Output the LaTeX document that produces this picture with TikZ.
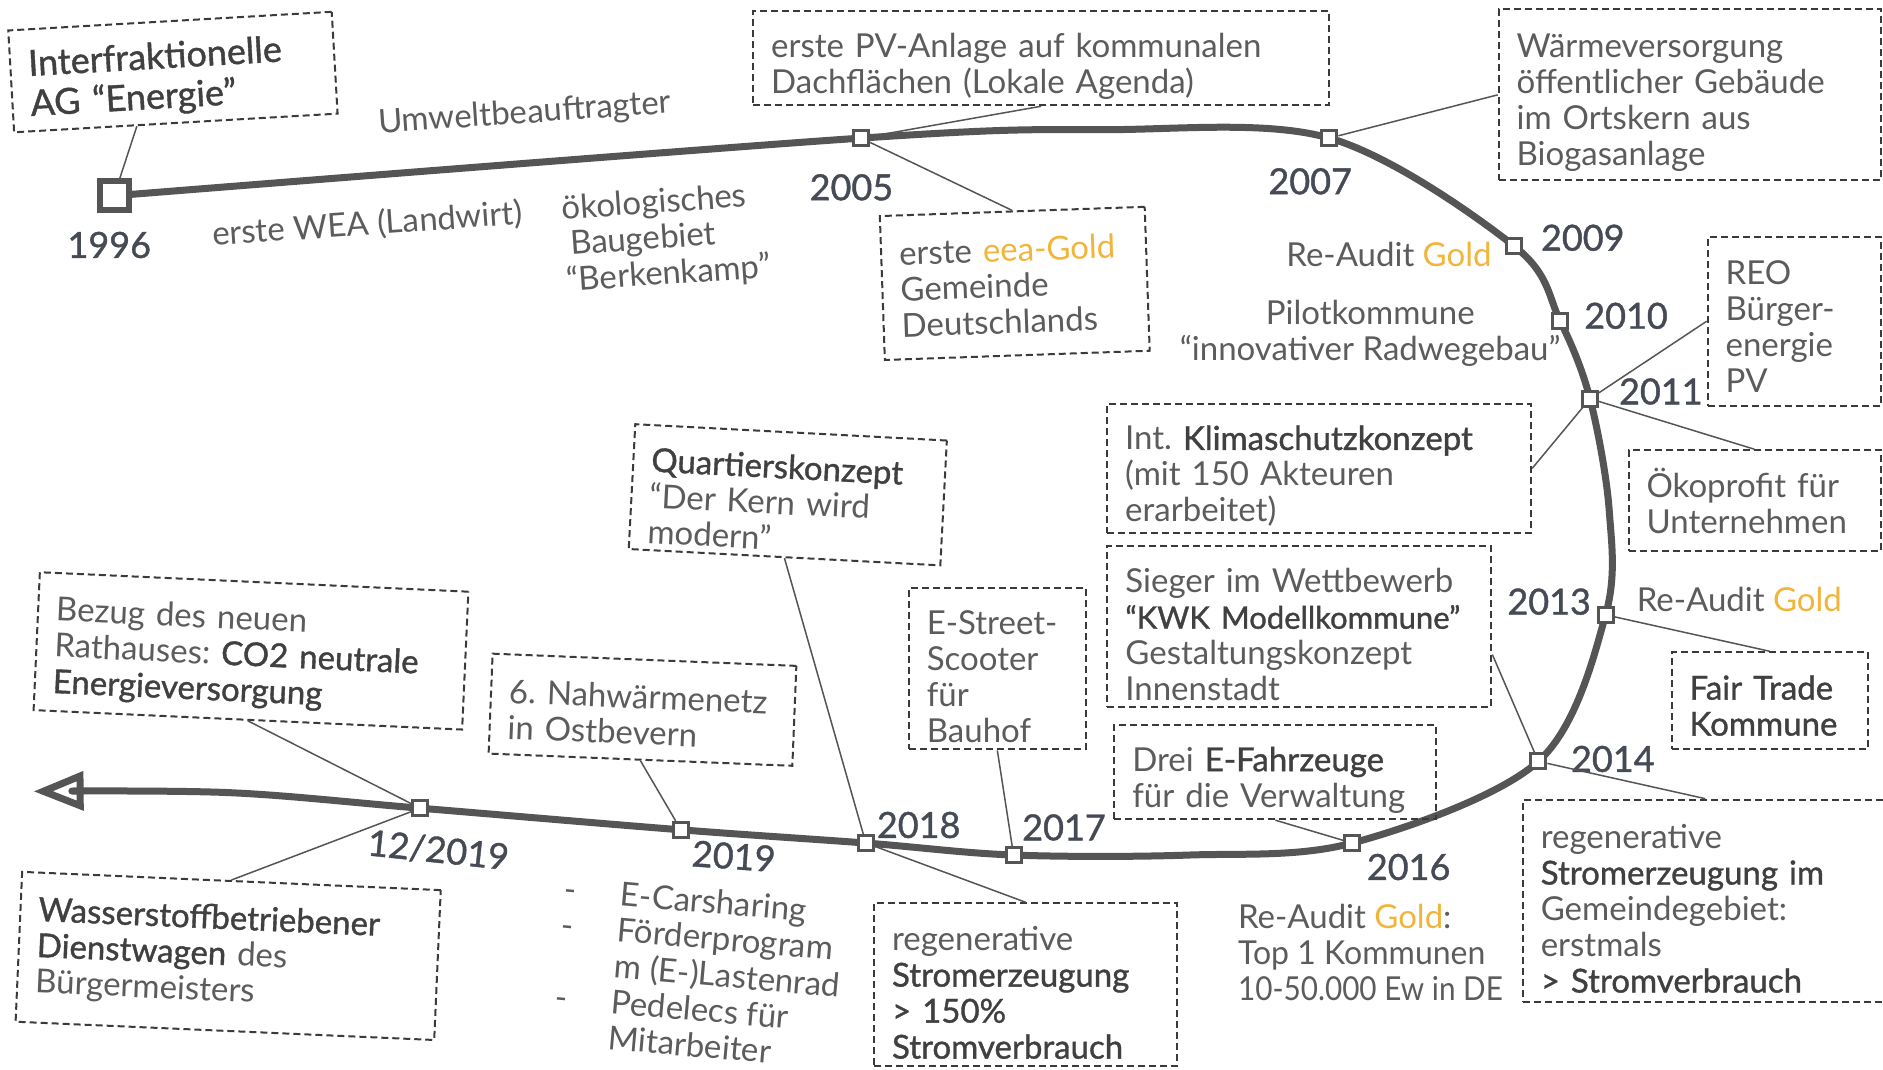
\documentclass[tikz,border=0pt]{standalone}
\usepackage{fontspec}
\usepackage{graphicx}
\setmainfont{Lato}
\newfontfamily\medfont{Lato}[FakeBold=1.1]
\usetikzlibrary{arrows.meta,calc}
\definecolor{tlc}{HTML}{555555}
\definecolor{txtc}{HTML}{5C5C5C}
\definecolor{emc}{HTML}{404040}
\definecolor{yrc}{HTML}{454A54}
\definecolor{goldc}{HTML}{F2B53C}
\definecolor{boxc}{HTML}{3A3A3A}
\newcommand{\gld}[1]{\textcolor{goldc}{#1}}
\newcommand{\emb}[1]{{\medfont\color{emc}#1}}
\hyphenpenalty=10000
\exhyphenpenalty=10000
\frenchspacing
\begin{document}
\begin{tikzpicture}[x=1.2009pt,y=-1.2009pt,
  every node/.style={text=txtc, font=\fontsize{33}{36}\selectfont},
  timeline/.style={line width=7pt, draw=tlc, line join=round},
  mk/.style={draw=tlc, line width=3pt, fill=white, minimum size=15pt, inner sep=0pt},
  bigmk/.style={draw=tlc, line width=6pt, fill=white, minimum size=29pt, inner sep=0pt},
  yr/.style={font=\medfont\fontsize{36}{40}\selectfont, text=yrc},
  ebox/.style={draw=boxc, dash pattern=on 7pt off 4pt, line width=2pt, align=left, inner xsep=18pt, inner ysep=6pt},
  tp/.style={execute at begin node={\rule{0pt}{#1}}},
  con/.style={draw=tlc, line width=1.5pt},
]
\path[use as bounding box, fill=white] (0,0) rectangle (1568,891);

% timeline
\coordinate (p96) at (95,163);
\coordinate (p05) at (717,115);
\coordinate (q1) at (920,108);
\coordinate (p07) at (1107,115);
\coordinate (p09) at (1261,205);
\coordinate (p10) at (1299,267);
\coordinate (p11) at (1324,332);
\coordinate (q2) at (1340,425);
\coordinate (p13) at (1337,512);
\coordinate (p14) at (1281,634);
\coordinate (p16) at (1126,702);
\coordinate (q3) at (990,712);
\coordinate (p17) at (844,712);
\coordinate (p18) at (721,702);
\coordinate (p19) at (567,691);
\coordinate (p1219) at (350,673);
\coordinate (q4) at (190,660);
\coordinate (tip) at (28,659);
\draw[timeline, -{Triangle[open, length=50pt, width=38pt, line width=7pt]}]
  plot[smooth, tension=0.55] coordinates {(p96) (p05) (q1) (p07) (p09) (p10) (p11) (q2) (p13) (p14) (p16) (q3) (p17) (p18) (p19) (p1219) (q4) (tip)};

% markers
\node[bigmk] (m96) at (p96) {};
\node[mk] (m05) at (p05) {};
\node[mk] (m07) at (p07) {};
\node[mk] (m09) at (p09) {};
\node[mk] (m10) at (p10) {};
\node[mk] (m11) at (p11) {};
\node[mk] (m13) at (p13) {};
\node[mk] (m14) at (p14) {};
\node[mk] (m16) at (p16) {};
\node[mk] (m17) at (p17) {};
\node[mk] (m18) at (p18) {};
\node[mk] (m19) at (p19) {};
\node[mk] (m1219) at (p1219) {};

% year labels
\node[yr] (y96) at (91,204) {1996};
\node[yr] (y05) at (709,156) {2005};
\node[yr] (y07) at (1091,151) {2007};
\node[yr] (y09) at (1318,198) {2009};
\node[yr] (y10) at (1354,263) {2010};
\node[yr] (y11) at (1383,326) {2011};
\node[yr] (y13) at (1290,501) {2013};
\node[yr] (y14) at (1343,632) {2014};
\node[yr] (y16) at (1173,722) {2016};
\node[yr] (y17) at (886,689) {2017};
\node[yr] (y18) at (765,687) {2018};
\node[yr, rotate=-4] (y19) at (611,713) {2019};
\node[yr, rotate=-6] (y1219) at (365,708) {12/2019};

% boxes
\node[ebox, tp=38pt, rotate=3.3, text width=288pt, minimum height=102pt, font=\medfont\fontsize{36}{40}\selectfont, text=emc] (b1) at (144,60) {Interfraktionelle\\AG “Energie”};
\node[ebox, tp=40pt, text width=540pt, minimum height=92pt] (b2) at (867,48.5) {erste PV-Anlage auf kommunalen\\Dachflächen (Lokale Agenda)};
\node[ebox, tp=40pt, text width=346pt, minimum height=171pt] (b3) at (1407,79) {Wärmeversorgung\\öffentlicher Gebäude\\im Ortskern aus\\Biogasanlage};
\node[ebox, tp=28pt, rotate=2, text width=229pt, minimum height=144pt] (b4) at (845,236) {erste \gld{eea-Gold}\\Gemeinde\\Deutschlands};
\node[ebox, tp=34pt, text width=137pt, minimum height=169pt] (b5) at (1494,267.5) {REO\\Bürger-\\energie\\PV};
\node[ebox, tp=40pt, text width=388pt, minimum height=127pt] (b6) at (1098.5,390) {Int. \emb{Klimaschutzkonzept}\\(mit 150 Akteuren\\erarbeitet)};
\node[ebox, text width=216pt, minimum height=101pt] (b7) at (1461,417) {Ökoprofit für\\Unternehmen};
\node[ebox, tp=40pt, text width=348pt, minimum height=161pt] (b8) at (1082,522) {Sieger im Wettbewerb\\\mbox{\emb{\fontsize{31}{36}\selectfont“KWK Modellkommune”}}\\Gestaltungskonzept\\Innenstadt};
\node[ebox, tp=34pt, text width=160pt, minimum height=97pt, font=\medfont\fontsize{33}{36}\selectfont, text=emc] (b9) at (1473.5,583.5) {Fair Trade\\Kommune};
\node[ebox, tp=40pt, text width=286pt, minimum height=94pt] (b10) at (1062,643) {Drei \emb{E-Fahrzeuge}\\für die Verwaltung};
\node[ebox, tp=40pt, text width=329pt, minimum height=202pt] (b11) at (1420,750) {regenerative\\\emb{Stromerzeugung im}\\Gemeindegebiet:\\erstmals\\\emb{> Stromverbrauch}};
\node[ebox, tp=40pt, text width=141pt, minimum height=161pt] (b12) at (830.5,557) {E-Street-\\Scooter\\für\\Bauhof};
\node[ebox, tp=40pt, rotate=-3, text width=276pt, minimum height=125pt] (b13) at (656,412) {\emb{Quartierskonzept}\\“Der Kern wird\\modern”};
\node[ebox, tp=34pt, rotate=-2.3, text width=268pt, minimum height=100pt] (b14) at (535,591) {6. Nahwärmenetz\\in Ostbevern};
\node[ebox, tp=36pt, rotate=-2.6, text width=393pt, minimum height=138pt] (b15) at (209,542) {Bezug des neuen\\Rathauses: \emb{CO2 neutrale}\\\emb{Energieversorgung}};
\node[ebox, rotate=-2.5, text width=383pt, minimum height=150pt] (b16) at (190,796) {\emb{Wasserstoffbetriebener}\\\emb{Dienstwagen} des\\Bürgermeisters};
\node[ebox, tp=40pt, text width=267pt, minimum height=163pt] (b17) at (854,820) {regenerative\\\emb{Stromerzeugung}\\\emb{> 150\%}\\\emb{Stromverbrauch}};

% free texts
\node[rotate=4] (t1) at (437,95) {Umweltbeauftragter};
\node[rotate=4] (t2) at (306,187) {erste WEA (Landwirt)};
\node[rotate=4, align=left] (t3) at (555,199) {ökologisches\\\hspace*{6pt}Baugebiet\\“Berkenkamp”};
\node[anchor=east] (t4) at (1245,212) {Re-Audit \gld{Gold}};
\node[align=center] (t5) at (1141,278) {Pilotkommune\\“innovativer Radwegebau”};
\node[anchor=west] (t6) at (1360,499) {Re-Audit \gld{Gold}};
\node[anchor=west, align=left] (t7) at (1028,793) {Re-Audit \gld{Gold}:\\\scalebox{0.97}[1]{Top 1 Kommunen}\\\scalebox{0.9}[1]{10-50.000 Ew in DE}};
\node[rotate=-5] (t8) at (582,814) {\begin{tabular}{@{}l@{\hspace{44pt}}l@{}}
-&E-Carsharing\\
-&Förderprogram\\
 &m (E-)Lastenrad\\
-&Pedelecs für\\
 &Mitarbeiter
\end{tabular}};

% connectors
\draw[con] ($(b1.south west)!0.38!(b1.south east)$) -- (m96);
\draw[con] (b2.south) -- (m05);
\draw[con] (b3.west) -- (m07);
\draw[con] (b4.north) -- (m05);
\draw[con] (b5.west) -- (m11);
\draw[con] (b6.east) -- (m11);
\draw[con] (b7.north) -- (m11);
\draw[con] ($(b8.north east)!0.67!(b8.south east)$) -- (m14);
\draw[con] (b9.north) -- (m13);
\draw[con] (b10.south) -- (m16);
\draw[con] (b11.north) -- (m14);
\draw[con] (b12.south) -- (m17);
\draw[con] (b13.south) -- (m18);
\draw[con] (b14.south) -- (m19);
\draw[con] (b15.south) -- (m1219);
\draw[con] (b16.north) -- (m1219);
\draw[con] (b17.north) -- (m18);
\end{tikzpicture}
\end{document}
